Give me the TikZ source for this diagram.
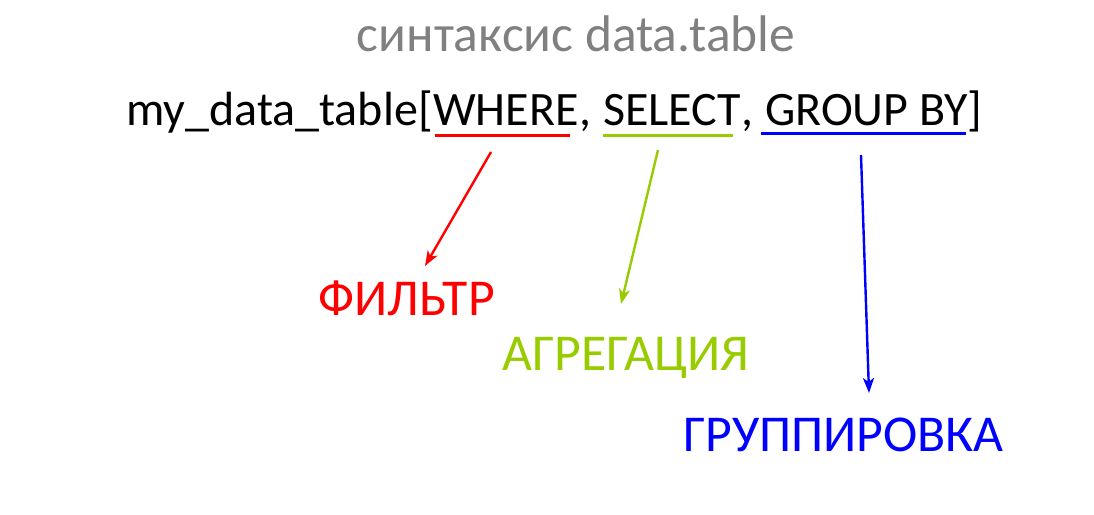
\documentclass[tikz,border=0pt]{standalone}
\usepackage{fontspec}
\setmainfont{Carlito}
\usetikzlibrary{arrows.meta,calc}
\definecolor{tgrey}{RGB}{128,128,128}
\definecolor{tgreen}{RGB}{153,204,0}
\definecolor{tred}{RGB}{255,0,0}
\definecolor{tblue}{RGB}{0,0,255}
\tikzset{
  piece/.style={inner sep=0pt, anchor=base west, font=\fontsize{48}{54}\selectfont},
  lbl/.style={inner sep=0pt, anchor=base west, font=\fontsize{51.7}{58}\selectfont},
  uline/.style={line width=3pt},
  arr/.style={line width=2.4pt, -{Stealth[length=15pt,width=11pt,inset=4pt]}}
}
\begin{document}
\begin{tikzpicture}[x=1pt,y=-1pt]
\useasboundingbox[fill=white] (0,0) rectangle (1094,514);
\node[inner sep=0pt, anchor=base, text=tgrey, font=\fontsize{51.5}{58}\selectfont] (title) at (576,51) {синтаксис data.table};
\node[piece] (m1) at (126,125) {my\_data\_table[};
\node[piece] (w) at (m1.base east) {WHERE};
\node[piece] (c1) at (w.base east) {,\kern0.24em};
\node[piece] (s) at (c1.base east) {SELECT};
\node[piece] (c2) at (s.base east) {,\kern0.24em};
\node[piece] (g) at (c2.base east) {GROUP BY};
\node[piece] (m2) at (g.base east) {]};
\draw[uline, tred] ($(w.base west)+(2,10)$) -- ($(w.base east)+(-9,10)$);
\draw[uline, tgreen] ($(s.base west)+(0,10)$) -- ($(s.base east)+(-8,10)$);
\draw[uline, tblue] ($(g.base west)+(-4,8)$) -- ($(g.base east)+(-2,8)$);
\node[lbl, text=tred] (f) at (318,315) {ФИЛЬТР};
\node[lbl, text=tgreen] (a) at (502,370) {АГРЕГАЦИЯ};
\node[lbl, text=tblue] (gr) at (683,451) {ГРУППИРОВКА};
\coordinate (ws) at (491,152);
\coordinate (we) at (425,266);
\coordinate (ss) at (658,150);
\coordinate (se) at (621,304);
\coordinate (gs) at (861,155);
\coordinate (ge) at (869,393);
\draw[arr, tred] (ws) -- (we);
\draw[arr, tgreen] (ss) -- (se);
\draw[arr, tblue] (gs) -- (ge);
\end{tikzpicture}
\end{document}
